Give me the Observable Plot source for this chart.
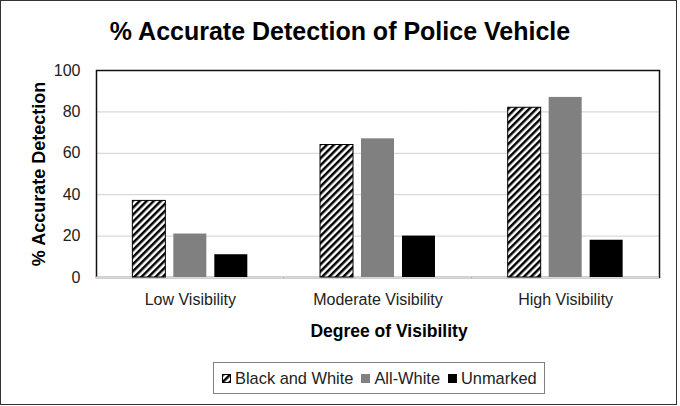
<!DOCTYPE html>
<html>
<head>
<meta charset="utf-8">
<script src="https://cdn.jsdelivr.net/npm/d3@7"></script>
<script src="https://cdn.jsdelivr.net/npm/@observablehq/plot@0.6"></script>
<style>
  html, body { margin: 0; padding: 0; background: #fff; }
  #wrap { position: relative; width: 680px; height: 406px; overflow: hidden; background: #fff;
          font-family: "Liberation Sans", Arial, sans-serif; }
  #border { position: absolute; left: 0; top: 0; width: 677px; height: 405px; box-sizing: border-box;
            border: 1.6px solid #333; pointer-events: none; }
  #title { height: 40px; padding-top: 16px; line-height: 30px; text-align: center; font-size: 25px;
           font-weight: bold; color: #000; }
  #chart svg { display: block; }
  #legend { position: absolute; left: 213px; top: 362px; width: 332px; height: 32px; box-sizing: border-box;
            border: 1.5px solid #808080; display: flex; align-items: center; padding-left: 8px;
            font-size: 16.4px; color: #222; white-space: nowrap; overflow: visible; }
  .item { display: flex; align-items: center; margin-right: 8px; flex-shrink: 0; white-space: nowrap; }
  .sw { width: 9px; height: 9px; margin-right: 4px; display: block; flex-shrink: 0; }
</style>
</head>
<body>
<div id="wrap">
  <div id="title"></div>
  <div id="chart"></div>
  <div id="legend"></div>
  <div id="border"></div>
</div>
<script>
const chartTitle = "% Accurate Detection of Police Vehicle";
const xTitle = "Degree of Visibility";
const yTitle = "% Accurate Detection";
const categories = ["Low Visibility", "Moderate Visibility", "High Visibility"];
const series = ["Black and White", "All-White", "Unmarked"];
const blackAndWhite = [37, 64, 82];
const allWhite = [21, 67, 87];
const unmarked = [11, 20, 18];
const yTicks = [0, 20, 40, 60, 80, 100];
const gridTicks = [20, 40, 60, 80];

const seriesValues = [blackAndWhite, allWhite, unmarked];
const table = categories.flatMap((c, i) =>
  series.map((s, j) => ({category: c, series: s, value: seriesValues[j][i]}))
);
const fills = ["url(#hatch)", "#808080", "#000000"];

document.getElementById("title").textContent = chartTitle;

const chart = Plot.plot({
  width: 680,
  height: 294,
  marginTop: 14,
  marginBottom: 73,
  marginLeft: 96,
  marginRight: 21,
  style: {fontFamily: '"Liberation Sans", Arial, sans-serif', fontSize: "16px", color: "#222", background: "white"},
  fx: {domain: categories, paddingInner: 0, paddingOuter: 0, round: false},
  x: {domain: series, paddingInner: 0.195, paddingOuter: 0.887, round: false, axis: null},
  y: {domain: [0, 100], axis: null},
  color: {domain: series, range: fills},
  marks: [
    Plot.gridY(gridTicks, {stroke: "#d9d9d9", strokeOpacity: 1, strokeWidth: 1.3}),
    Plot.frame({stroke: "#111", strokeWidth: 1.5, facet: "super"}),
    Plot.ruleY([0], {stroke: "#d9d9d9", strokeWidth: 2}),
    Plot.barY(table, {fx: "category", x: "series", y: "value", fill: "series"}),
    Plot.barY(table.filter(d => d.series === series[0]),
      {fx: "category", x: "series", y: "value", fill: "none", stroke: "#000", strokeWidth: 1}),
    Plot.axisY({ticks: yTicks, tickSize: 0, tickPadding: 16, fontSize: 16, label: null}),
    Plot.axisFx({anchor: "bottom", tickSize: 0, tickPadding: 16.5, fontSize: 16, label: null}),
    Plot.text([xTitle], {frameAnchor: "bottom", dx: 11, dy: 59, fontSize: 17.5, fontWeight: "bold", fill: "#000", facet: "super"}),
    Plot.text([yTitle], {frameAnchor: "left", textAnchor: "middle", lineAnchor: "middle", rotate: -90, dx: -57, fontSize: 18, fontWeight: "bold", fill: "#000", facet: "super"})
  ]
});

function addHatch(sel, id) {
  const p = sel.append("pattern")
    .attr("id", id)
    .attr("patternUnits", "userSpaceOnUse")
    .attr("width", 5).attr("height", 5)
    .attr("patternTransform", "rotate(45)");
  p.append("rect").attr("width", 5).attr("height", 5).attr("fill", "#fff");
  p.append("rect").attr("width", 2.5).attr("height", 5).attr("fill", "#000");
}
addHatch(d3.select(chart).insert("defs", ":first-child"), "hatch");
document.getElementById("chart").appendChild(chart);

const legend = d3.select("#legend");
series.forEach((s, i) => {
  const item = legend.append("div").attr("class", "item");
  const sw = item.append("svg").attr("class", "sw").attr("width", 9).attr("height", 9);
  if (i === 0) {
    addHatch(sw.append("defs"), "hatchLegend");
    sw.append("rect").attr("x", 0.5).attr("y", 0.5).attr("width", 8).attr("height", 8)
      .attr("fill", "url(#hatchLegend)").attr("stroke", "#000").attr("stroke-width", 1);
  } else {
    sw.append("rect").attr("width", 9).attr("height", 9).attr("fill", fills[i]);
  }
  item.append("span").text(s);
});
</script>
</body>
</html>
